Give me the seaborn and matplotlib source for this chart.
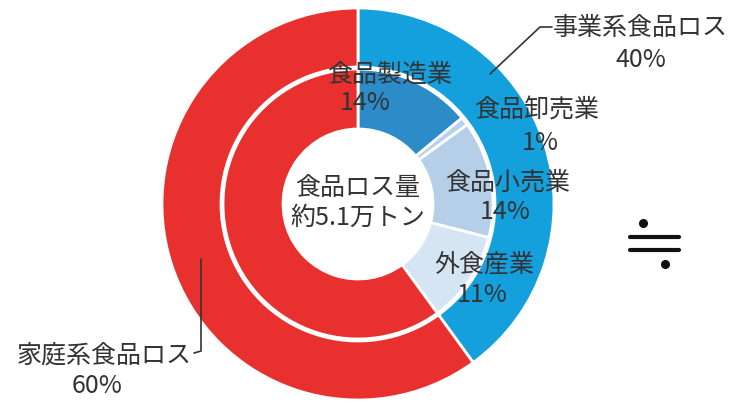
import matplotlib.pyplot as plt
import seaborn as sns

sns.set_theme(style="white")
plt.rcParams['font.family'] = ['Noto Sans CJK JP', 'DejaVu Sans']

# outer ring: business vs household
outer_labels = ['事業系食品ロス', '家庭系食品ロス']
outer_values = [40, 60]
outer_colors = ['#14A0DC', '#E8312E']

# inner ring: business breakdown + household
inner_labels = ['食品製造業', '食品卸売業', '食品小売業', '外食産業', '家庭系']
inner_values = [14, 1, 14, 11, 60]
inner_colors = ['#2D8BC8', '#B7D2EA', '#B5CFE8', '#D6E5F3', '#E8312E']

center_text = '食品ロス量\n約5.1万トン'
text_color = '#333333'

fig = plt.figure(figsize=(7.31, 4.06), dpi=100)
ax = fig.add_axes([0, 0, 1, 1])

cx, cy = 358, 201

ax.pie(outer_values, colors=outer_colors, startangle=90, counterclock=False,
       radius=196, center=(cx, cy), frame=True,
       wedgeprops=dict(width=59, edgecolor='white', linewidth=2))
ax.pie(inner_values, colors=inner_colors, startangle=90, counterclock=False,
       radius=135, center=(cx, cy), frame=True,
       wedgeprops=dict(width=60, edgecolor='white', linewidth=2))
ax.set_xlim(0, 731)
ax.set_ylim(0, 406)
ax.set_aspect('equal')
ax.axis('off')

fs = 18

# center label
ax.text(cx, cy + 2, center_text, ha='center', va='center', fontsize=fs,
        color=text_color, linespacing=1.2)

# inner ring labels (positions in pixel coords, y measured from top)
inner_pos = [(390, 75, 365, 103), (537, 110, 540, 143), (508, 183, 505, 212), (484, 265, 482, 295)]
for lab, val, (x1, y1, x2, y2) in zip(inner_labels[:4], inner_values[:4], inner_pos):
    ax.text(x1, 406 - y1, lab, ha='center', va='center', fontsize=fs, color=text_color)
    ax.text(x2, 406 - y2, f'{val}%', ha='center', va='center', fontsize=fs, color=text_color)

# outer labels with leader lines
ax.plot([490, 540, 552], [406 - 75, 406 - 28, 406 - 28], color=text_color, lw=1.2)
ax.text(553, 406 - 28, outer_labels[0], ha='left', va='center', fontsize=fs, color=text_color)
ax.text(641, 406 - 60, f'{outer_values[0]}%', ha='center', va='center', fontsize=fs, color=text_color)

ax.plot([201, 201, 194], [406 - 260, 406 - 352, 406 - 354], color=text_color, lw=1.2)
ax.text(192, 406 - 356, outer_labels[1], ha='right', va='center', fontsize=fs, color=text_color)
ax.text(97, 406 - 386, f'{outer_values[1]}%', ha='center', va='center', fontsize=fs, color=text_color)

# approximately-equal sign drawn as bars and dots
ax.plot([630, 679], [406 - 238, 406 - 238], color='#111111', lw=3, solid_capstyle='round')
ax.plot([630, 679], [406 - 251, 406 - 251], color='#111111', lw=3, solid_capstyle='round')
ax.plot([643, 665], [406 - 224, 406 - 265], 'o', color='#111111', ms=5.5)

fig.savefig('out.png', dpi=100, facecolor='white')
